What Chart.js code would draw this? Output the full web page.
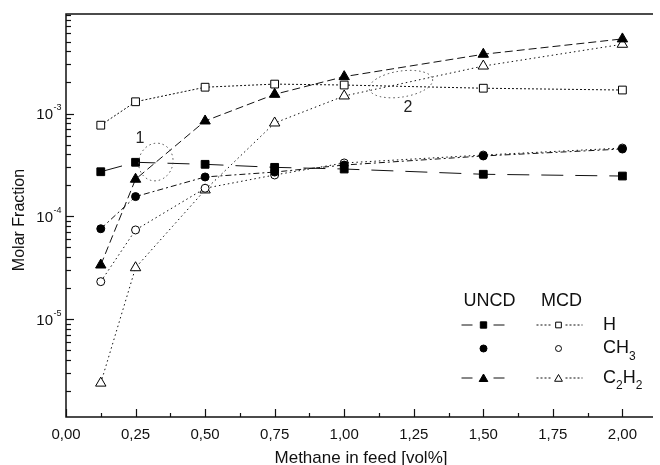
<!DOCTYPE html>
<html>
<head>
<meta charset="utf-8">
<title>Molar fraction vs methane in feed</title>
<script src="https://cdn.jsdelivr.net/npm/chart.js@4.4.0/dist/chart.umd.min.js"></script>
<style>
    html, body { margin: 0; padding: 0; background: #fff; }
    #wrap { width: 660px; height: 465px; position: relative; }
</style>
</head>
<body>
<div id="wrap"><canvas id="fractionChart"></canvas></div>
<script>
// methane in feed [vol%]
const feed = [0.125, 0.25, 0.5, 0.75, 1.0, 1.5, 2.0];

// molar fractions, UNCD (filled) and MCD (open) conditions
const uncdH = [2.72e-4, 3.36e-4, 3.21e-4, 3.0e-4, 2.89e-4, 2.57e-4, 2.47e-4];
const mcdH = [7.7e-4, 1.30e-3, 1.80e-3, 1.93e-3, 1.89e-3, 1.76e-3, 1.69e-3];
const uncdCH3 = [7.6e-5, 1.56e-4, 2.42e-4, 2.70e-4, 3.16e-4, 3.87e-4, 4.52e-4];
const mcdCH3 = [2.33e-5, 7.4e-5, 1.88e-4, 2.53e-4, 3.31e-4, 3.95e-4, 4.62e-4];
const uncdC2H2 = [3.38e-5, 2.30e-4, 8.46e-4, 1.535e-3, 2.28e-3, 3.76e-3, 5.3e-3];
const mcdC2H2 = [2.41e-6, 3.18e-5, 1.81e-4, 8.09e-4, 1.48e-3, 2.89e-3, 4.7e-3];

const xTickLabels = ["0,00", "0,25", "0,50", "0,75", "1,00", "1,25", "1,50", "1,75", "2,00"];
const yDecades = [1e-5, 1e-4, 1e-3];
const yDecadeExp = ["-5", "-4", "-3"];

// the two crossing regions marked on the plot
const crossLabels = ["1", "2"];
const crossLabelAt = [[0.266, 5.65e-4], [1.229, 1.13e-3]];
const crossRingAt = [[0.323, 3.38e-4], [1.204, 1.93e-3]];

const FONT = "'Liberation Sans', Arial, Helvetica, sans-serif";
const INK = "#111";

function pts(values) {
    return feed.map((x, i) => ({ x, y: values[i] }));
}

function series(label, values, style, radius, filled, dash) {
    return {
        label,
        data: pts(values),
        borderColor: INK,
        borderWidth: 1,
        borderDash: dash,
        pointStyle: style,
        pointRadius: radius,
        pointBackgroundColor: filled ? "#000" : "#fff",
        pointBorderColor: "#000",
        pointBorderWidth: 1,
        tension: 0,
        fill: false,
    };
}

// axes box, inward ticks, decade labels, titles, legend and notes
const decorPlugin = {
    id: "decor",
    afterDraw(chart) {
        const ctx = chart.ctx;
        const { left, right, top, bottom } = chart.chartArea;
        const xs = chart.scales.x;
        const ys = chart.scales.y;
        ctx.save();

        // frame: left, bottom and top
        ctx.strokeStyle = INK;
        ctx.lineWidth = 1.5;
        ctx.beginPath();
        ctx.moveTo(right, top);
        ctx.lineTo(left, top);
        ctx.lineTo(left, bottom);
        ctx.lineTo(right, bottom);
        ctx.stroke();

        // y ticks, pointing inward
        ctx.lineWidth = 1.2;
        for (let e = -6; e <= -3; e++) {
            for (let m = 1; m <= 9; m++) {
                const v = m * Math.pow(10, e);
                if (v < ys.min || v > ys.max) continue;
                const py = Math.round(ys.getPixelForValue(v)) + 0.5;
                const len = m === 1 ? 8 : 5;
                ctx.beginPath();
                ctx.moveTo(left, py);
                ctx.lineTo(left + len, py);
                ctx.stroke();
            }
        }
        // x ticks, majors every 0.25
        for (let i = 0; i * 0.125 <= xs.max; i++) {
            const px = Math.round(xs.getPixelForValue(i * 0.125)) + 0.5;
            const len = i % 2 === 0 ? 8 : 4;
            ctx.beginPath();
            ctx.moveTo(px, bottom);
            ctx.lineTo(px, bottom - len);
            ctx.stroke();
        }

        // decade labels 10^n
        ctx.fillStyle = INK;
        ctx.textBaseline = "middle";
        yDecades.forEach((v, i) => {
            const py = ys.getPixelForValue(v);
            ctx.font = "15px " + FONT;
            ctx.textAlign = "right";
            ctx.fillText("10", 53, py + 1);
            ctx.font = "9px " + FONT;
            ctx.textAlign = "left";
            ctx.fillText(yDecadeExp[i], 53.5, py - 6);
        });

        // axis titles
        ctx.font = "16px " + FONT;
        ctx.textAlign = "center";
        ctx.save();
        ctx.translate(20, 220);
        ctx.rotate(-Math.PI / 2);
        ctx.fillText("Molar Fraction", 0, 0);
        ctx.restore();
        ctx.font = "17px " + FONT;
        ctx.fillText("Methane in feed [vol%]", 361, 458);

        // dotted rings around the crossings, with their numbers
        ctx.strokeStyle = "#444";
        ctx.lineWidth = 1;
        ctx.setLineDash([1.5, 3]);
        const ringR = [[17, 19, 0.3], [32, 13, -0.15]];
        crossRingAt.forEach(([vx, vy], i) => {
            ctx.beginPath();
            ctx.ellipse(xs.getPixelForValue(vx), ys.getPixelForValue(vy),
                ringR[i][0], ringR[i][1], ringR[i][2], 0, Math.PI * 2);
            ctx.stroke();
        });
        ctx.setLineDash([]);
        ctx.font = "16px " + FONT;
        ctx.fillStyle = "#222";
        crossLabels.forEach((t, i) => {
            const [vx, vy] = crossLabelAt[i];
            ctx.fillText(t, xs.getPixelForValue(vx), ys.getPixelForValue(vy));
        });

        drawLegend(ctx);
        ctx.restore();
    },
};

function drawLegend(ctx) {
    const colU = 483.5, colM = 558.5, colText = 603;
    const rows = [325, 348.5, 378];
    ctx.fillStyle = INK;
    ctx.textBaseline = "middle";
    ctx.textAlign = "center";
    ctx.font = "18px " + FONT;
    ctx.fillText("UNCD", colU + 6, 301);
    ctx.fillText("MCD", colM + 3, 301);

    const seg = (x1, x2, y, dash) => {
        ctx.setLineDash(dash);
        ctx.beginPath();
        ctx.moveTo(x1, y);
        ctx.lineTo(x2, y);
        ctx.stroke();
        ctx.setLineDash([]);
    };
    ctx.strokeStyle = INK;
    ctx.lineWidth = 1;
    [rows[0], rows[2]].forEach((y) => {
        seg(colU - 22, colU - 11, y, []);
        seg(colU + 10, colU + 21, y, []);
        seg(colM - 22, colM - 8, y, [2, 2]);
        seg(colM + 7, colM + 24, y, [2, 2]);
    });

    const mark = (style, r, x, y, filled) => {
        ctx.fillStyle = filled ? "#000" : "#fff";
        ctx.strokeStyle = "#000";
        Chart.helpers.drawPoint(ctx, { pointStyle: style, radius: r, rotation: 0, borderWidth: 1 }, x, y);
    };
    mark("rect", 4.5, colU, rows[0], true);
    mark("rect", 4, colM, rows[0], false);
    mark("circle", 3.5, colU, rows[1], true);
    mark("circle", 3, colM, rows[1], false);
    mark("triangle", 5, colU, rows[2] + 1, true);
    mark("triangle", 4.5, colM, rows[2] + 1, false);

    // species names with subscripts
    ctx.fillStyle = INK;
    ctx.textAlign = "left";
    const big = "18px " + FONT, sub = "12px " + FONT;
    const write = (parts, y) => {
        let x = colText;
        parts.forEach(([t, isSub]) => {
            ctx.font = isSub ? sub : big;
            ctx.fillText(t, x, isSub ? y + 8 : y);
            x += ctx.measureText(t).width;
        });
    };
    write([["H", false]], rows[0]);
    write([["CH", false], ["3", true]], rows[1]);
    write([["C", false], ["2", true], ["H", false], ["2", true]], rows[2]);
}

Chart.defaults.font.family = FONT;
Chart.defaults.color = INK;

const ctx = document.getElementById("fractionChart").getContext("2d");
new Chart(ctx, {
    type: "line",
    data: {
        datasets: [
            series("UNCD H", uncdH, "rect", 5.5, true, [22, 12]),
            series("UNCD CH3", uncdCH3, "circle", 4, true, [6, 3, 2, 3]),
            series("UNCD C2H2", uncdC2H2, "triangle", 6, true, [8, 4]),
            series("MCD H", mcdH, "rect", 5.5, false, [2, 2]),
            series("MCD CH3", mcdCH3, "circle", 4, false, [1.5, 3]),
            series("MCD C2H2", mcdC2H2, "triangle", 6, false, [1.5, 3]),
        ],
    },
    options: {
        responsive: true,
        maintainAspectRatio: false,
        animation: false,
        layout: { padding: { top: 14, right: 0, bottom: 0, left: 0 } },
        plugins: { legend: { display: false }, tooltip: { enabled: false } },
        scales: {
            x: {
                type: "linear",
                min: 0,
                max: 2.11,
                grid: { display: false, drawTicks: false },
                border: { display: false },
                ticks: {
                    stepSize: 0.125,
                    includeBounds: false,
                    autoSkip: false,
                    maxRotation: 0,
                    padding: 9,
                    color: INK,
                    font: { size: 15 },
                    callback: (v) => {
                        const i = Math.round(v / 0.125);
                        return i % 2 === 0 ? xTickLabels[i / 2] || "" : "";
                    },
                },
                afterFit: (s) => { s.height = 48; },
            },
            y: {
                type: "logarithmic",
                min: 1.13e-6,
                max: 9.25e-3,
                grid: { display: false, drawTicks: false },
                border: { display: false },
                ticks: { display: false },
                afterFit: (s) => { s.width = 66; },
            },
        },
    },
    plugins: [decorPlugin],
});
</script>
</body>
</html>
